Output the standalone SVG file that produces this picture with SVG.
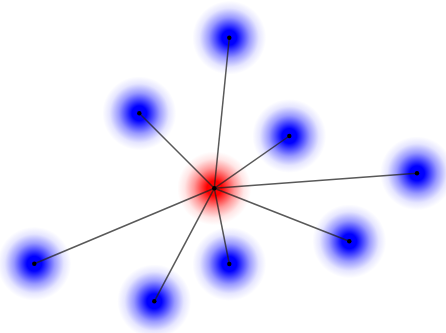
<svg xmlns="http://www.w3.org/2000/svg" width="446" height="333" viewBox="0 0 446 333">
<defs>
<radialGradient id="gb">
<stop offset="0" stop-color="#0000ff" stop-opacity="1"/>
<stop offset="0.2" stop-color="#0000ff" stop-opacity="1"/>
<stop offset="0.55" stop-color="#0000ff" stop-opacity="0.4"/>
<stop offset="0.8" stop-color="#0000ff" stop-opacity="0.1"/>
<stop offset="1" stop-color="#0000ff" stop-opacity="0"/>
</radialGradient>
<radialGradient id="gr">
<stop offset="0" stop-color="#ff0000" stop-opacity="1"/>
<stop offset="0.2" stop-color="#ff0000" stop-opacity="1"/>
<stop offset="0.55" stop-color="#ff0000" stop-opacity="0.4"/>
<stop offset="0.8" stop-color="#ff0000" stop-opacity="0.1"/>
<stop offset="1" stop-color="#ff0000" stop-opacity="0"/>
</radialGradient>
</defs>
<style>
.glowb{fill:url(#gb)}
.glowr{fill:url(#gr)}
.dot{fill:#000}
.edge{stroke:#222;stroke-opacity:0.75;stroke-width:1.5;fill:none}
</style>
<rect width="446" height="333" fill="#fff"/>
<g id="n1"><circle class="glowb" cx="229.3" cy="37.7" r="37"/></g>
<g id="n2"><circle class="glowb" cx="139.3" cy="113.3" r="37"/></g>
<g id="n3"><circle class="glowb" cx="289.3" cy="136" r="37"/></g>
<g id="n4"><circle class="glowb" cx="417" cy="173.3" r="37"/></g>
<g id="n5"><circle class="glowb" cx="349.3" cy="241.3" r="37"/></g>
<g id="n6"><circle class="glowb" cx="229.3" cy="264" r="37"/></g>
<g id="n7"><circle class="glowb" cx="34.3" cy="263.7" r="37"/></g>
<g id="n8"><circle class="glowb" cx="154.3" cy="301.3" r="37"/></g>
<g id="center"><circle class="glowr" cx="214.3" cy="188.3" r="37"/></g>
<g id="edges">
<line class="edge" x1="214.3" y1="188.3" x2="229.3" y2="37.7"/>
<line class="edge" x1="214.3" y1="188.3" x2="139.3" y2="113.3"/>
<line class="edge" x1="214.3" y1="188.3" x2="289.3" y2="136"/>
<line class="edge" x1="214.3" y1="188.3" x2="417" y2="173.3"/>
<line class="edge" x1="214.3" y1="188.3" x2="349.3" y2="241.3"/>
<line class="edge" x1="214.3" y1="188.3" x2="229.3" y2="264"/>
<line class="edge" x1="214.3" y1="188.3" x2="34.3" y2="263.7"/>
<line class="edge" x1="214.3" y1="188.3" x2="154.3" y2="301.3"/>
</g>
<g id="dots">
<circle class="dot" cx="214.3" cy="188.3" r="2.2"/>
<circle class="dot" cx="229.3" cy="37.7" r="2.2"/>
<circle class="dot" cx="139.3" cy="113.3" r="2.2"/>
<circle class="dot" cx="289.3" cy="136" r="2.2"/>
<circle class="dot" cx="417" cy="173.3" r="2.2"/>
<circle class="dot" cx="349.3" cy="241.3" r="2.2"/>
<circle class="dot" cx="229.3" cy="264" r="2.2"/>
<circle class="dot" cx="34.3" cy="263.7" r="2.2"/>
<circle class="dot" cx="154.3" cy="301.3" r="2.2"/>
</g>
</svg>
